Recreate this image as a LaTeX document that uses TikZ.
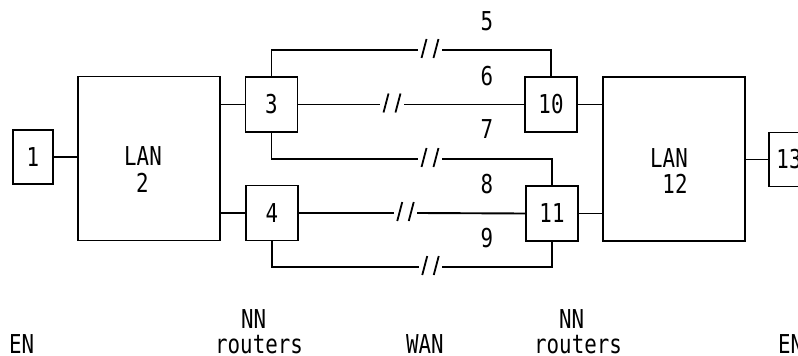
\documentclass[tikz,border=0pt]{standalone}
\usepackage{fontspec}
\usetikzlibrary{calc}
\newfontfamily\labelfont[FakeStretch=0.8]{DejaVu Sans Mono}

\tikzset{
  wire/.style={line width=1.9pt, line cap=rect},
  unit/.style={draw, line width=1.9pt, inner sep=0pt, minimum width=52pt, minimum height=55pt},
  endnode/.style={unit, minimum width=40pt, minimum height=54pt},
  lanbox/.style={unit, minimum width=142pt, minimum height=164pt},
  caption/.style={inner sep=0pt, anchor=base west},
  linkno/.style={inner sep=0pt, anchor=base},
}

% two slanted strokes inside the gap between coordinates #1 and #2
\newcommand{\breakmarks}[2]{%
  \draw[line width=1.8pt] ($(#1)!0.27!(#2)+(-2.5,8)$) -- ++(5,-19);
  \draw[line width=1.8pt] ($(#1)!0.73!(#2)+(-2.5,8)$) -- ++(5,-19);
}

\begin{document}
\begin{tikzpicture}[x=1pt, y=-1pt, font=\labelfont\fontsize{26}{29}\selectfont]
  \useasboundingbox[fill=white] (0,0) rectangle (798,356);

  % stations and LANs
  \node[endnode] (b1)  at (33,157)    {1};
  \node[lanbox]  (lan2) at (149,158.5) {};
  \node[unit]    (b3)  at (271.5,104.5) {3};
  \node[unit]    (b4)  at (272,213)   {4};
  \node[unit]    (b10) at (551,104.5) {10};
  \node[unit]    (b11) at (552,213.5) {11};
  \node[lanbox]  (lan12) at (674,159) {};
  \node[endnode] (b13) at (789,159.5) {13};

  \node[linkno] (lan2a) at (143,165) {LAN};
  \node[linkno] (lan2b) at (142.5,192) {2};
  \node[linkno] (lan12a) at (669,167) {LAN};
  \node[linkno] (lan12b) at (675,193) {12};

  % local attachments
  \draw[wire] (b1.east) -- (b1.east -| lan2.west);
  \draw[wire] (b3.west) -- (b3.west -| lan2.east);
  \draw[wire] (b4.west) -- (b4.west -| lan2.east);
  \draw[wire] (b10.east) -- (b10.east -| lan12.west);
  \draw[wire] (b11.east) -- (b11.east -| lan12.west);
  \draw[wire] (b13.west -| lan12.east) -- (b13.west);

  % gap ends of the WAN links
  \coordinate (g5a) at (417,50);  \coordinate (g5b) at (443,50);
  \coordinate (g6a) at (379,104.5); \coordinate (g6b) at (405,104.5);
  \coordinate (g7a) at (417,159); \coordinate (g7b) at (443,159);
  \coordinate (g8a) at (393,213); \coordinate (g8b) at (418,213);
  \coordinate (g9a) at (418,267); \coordinate (g9b) at (443,267);

  % WAN links
  \draw[wire] (b3.north) |- (g5a);
  \draw[wire] (g5b) -| (b10.north);
  \draw[wire] (b3.east) -- (g6a);
  \draw[wire] (g6b) -- (b10.west);
  \draw[wire] (b3.south) |- (g7a);
  \draw[wire] (g7b) -| (b11.north);
  \draw[wire] (b4.east) -- (g8a);
  \draw[wire] (g8b) -- (b11.west);
  \draw[wire] (b4.south) |- (g9a);
  \draw[wire] (g9b) -| (b11.south);

  \breakmarks{g5a}{g5b}
  \breakmarks{g6a}{g6b}
  \breakmarks{g7a}{g7b}
  \breakmarks{g8a}{g8b}
  \breakmarks{g9a}{g9b}

  % link numbers
  \node[linkno] (n5) at (487,30)  {5};
  \node[linkno] (n6) at (487,85)  {6};
  \node[linkno] (n7) at (487,138) {7};
  \node[linkno] (n8) at (487,193) {8};
  \node[linkno] (n9) at (487,247) {9};

  % role captions
  \node[caption] (enl)  at (9,353)   {EN};
  \node[caption] (nnl)  at (241,328) {NN};
  \node[caption] (rtl)  at (215,353) {routers};
  \node[caption] (wan)  at (406,353) {WAN};
  \node[caption] (nnr)  at (559,328) {NN};
  \node[caption] (rtr)  at (534,353) {routers};
  \node[caption] (enr)  at (778,353) {EN};
\end{tikzpicture}
\end{document}
